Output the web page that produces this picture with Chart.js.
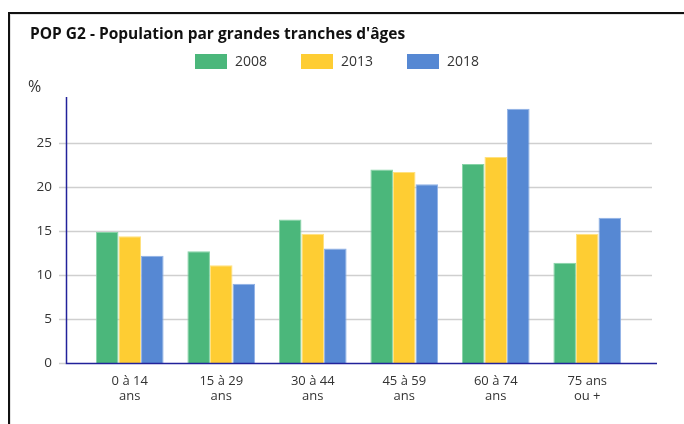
<!DOCTYPE html>
<html>
<head>
<meta charset="utf-8">
<script src="https://cdn.jsdelivr.net/npm/chart.js@4/dist/chart.umd.min.js"></script>
<style>
  body { margin: 0; background: #fff; }
</style>
</head>
<body>
<canvas id="popChart" width="684" height="424"></canvas>
<script>
const categories = [['0 à 14', 'ans'], ['15 à 29', 'ans'], ['30 à 44', 'ans'], ['45 à 59', 'ans'], ['60 à 74', 'ans'], ['75 ans', 'ou +']];
const years = ['2008', '2013', '2018'];
const values2008 = [14.9, 12.7, 16.3, 22.0, 22.6, 11.4];
const values2013 = [14.4, 11.1, 14.7, 21.7, 23.4, 14.7];
const values2018 = [12.2, 9.0, 13.0, 20.3, 28.9, 16.5];
const yTicks = [0, 5, 10, 15, 20, 25];

const colors = ['#4bb77b', '#fecd33', '#5688d3'];
const borders = ['#86d3a6', '#ffe17f', '#8fb1e6'];
const font = "'Open Sans', sans-serif";

// title, legend, frame, grid and axis lines
const decor = {
    id: 'decor',
    beforeDatasetsDraw(chart) {
        const ctx = chart.ctx;
        const y = chart.scales.y;
        ctx.save();
        // frame
        ctx.strokeStyle = '#e2e2e2';
        ctx.lineWidth = 1;
        ctx.beginPath();
        ctx.moveTo(10, 14.5); ctx.lineTo(684, 14.5);
        ctx.moveTo(10.5, 14); ctx.lineTo(10.5, 424);
        ctx.stroke();
        ctx.strokeStyle = '#111';
        ctx.lineWidth = 2;
        ctx.beginPath();
        ctx.moveTo(8, 13); ctx.lineTo(684, 13);
        ctx.moveTo(9, 12); ctx.lineTo(9, 424);
        ctx.stroke();
        // grid
        ctx.strokeStyle = '#cfcfcf';
        ctx.lineWidth = 1.5;
        yTicks.forEach(t => {
            const py = Math.round(y.getPixelForValue(t)) + 0.5;
            ctx.beginPath();
            ctx.moveTo(59, py);
            ctx.lineTo(t === 0 ? 66 : 652, py);
            ctx.stroke();
        });
        // title
        ctx.fillStyle = '#111';
        ctx.font = 'bold 15.5px ' + font;
        ctx.textBaseline = 'middle';
        ctx.fillText("POP G2 - Population par grandes tranches d'âges", 30, 35);
        // legend
        ctx.font = '14px ' + font;
        years.forEach((yr, i) => {
            const x = 195 + i * 106;
            ctx.fillStyle = colors[i];
            ctx.fillRect(x, 54, 32, 15);
            ctx.fillStyle = '#333';
            ctx.fillText(yr, x + 40, 62);
        });
        // unit
        ctx.font = '16px ' + font;
        ctx.fillText('%', 28, 87);
        ctx.restore();
    },
    afterDatasetsDraw(chart) {
        const ctx = chart.ctx;
        const bottom = chart.chartArea.bottom;
        ctx.save();
        ctx.strokeStyle = '#22229a';
        ctx.lineWidth = 1.5;
        ctx.beginPath();
        ctx.moveTo(66.5, 97);
        ctx.lineTo(66.5, bottom + 0.5);
        ctx.lineTo(657, bottom + 0.5);
        ctx.stroke();
        ctx.restore();
    }
};

new Chart(document.getElementById('popChart'), {
    type: 'bar',
    data: {
        labels: categories,
        datasets: [
            { label: years[0], data: values2008, backgroundColor: colors[0], borderColor: borders[0], borderWidth: 1 },
            { label: years[1], data: values2013, backgroundColor: colors[1], borderColor: borders[1], borderWidth: 1 },
            { label: years[2], data: values2018, backgroundColor: colors[2], borderColor: borders[2], borderWidth: 1 },
        ],
    },
    options: {
        responsive: false,
        animation: false,
        categoryPercentage: 0.74,
        barPercentage: 1,
        layout: { padding: { top: 99, right: 51, left: 0, bottom: 0 } },
        scales: {
            x: {
                afterFit: s => { s.height = 61; },
                grid: { display: false, drawTicks: false },
                border: { display: false },
                ticks: { color: '#333', font: { family: font, size: 13, lineHeight: 1.15 }, padding: 11, maxRotation: 0 },
            },
            y: {
                min: 0,
                max: 30,
                afterFit: s => { s.width = 84; },
                grid: { display: false, drawTicks: false },
                border: { display: false },
                ticks: {
                    stepSize: 5,
                    padding: 32,
                    color: '#333',
                    font: { family: font, size: 13.5 },
                    callback: v => yTicks.includes(v) ? v : '',
                },
            },
        },
        plugins: {
            legend: { display: false },
            title: { display: false },
            tooltip: { enabled: false },
        },
    },
    plugins: [decor],
});
</script>
</body>
</html>
